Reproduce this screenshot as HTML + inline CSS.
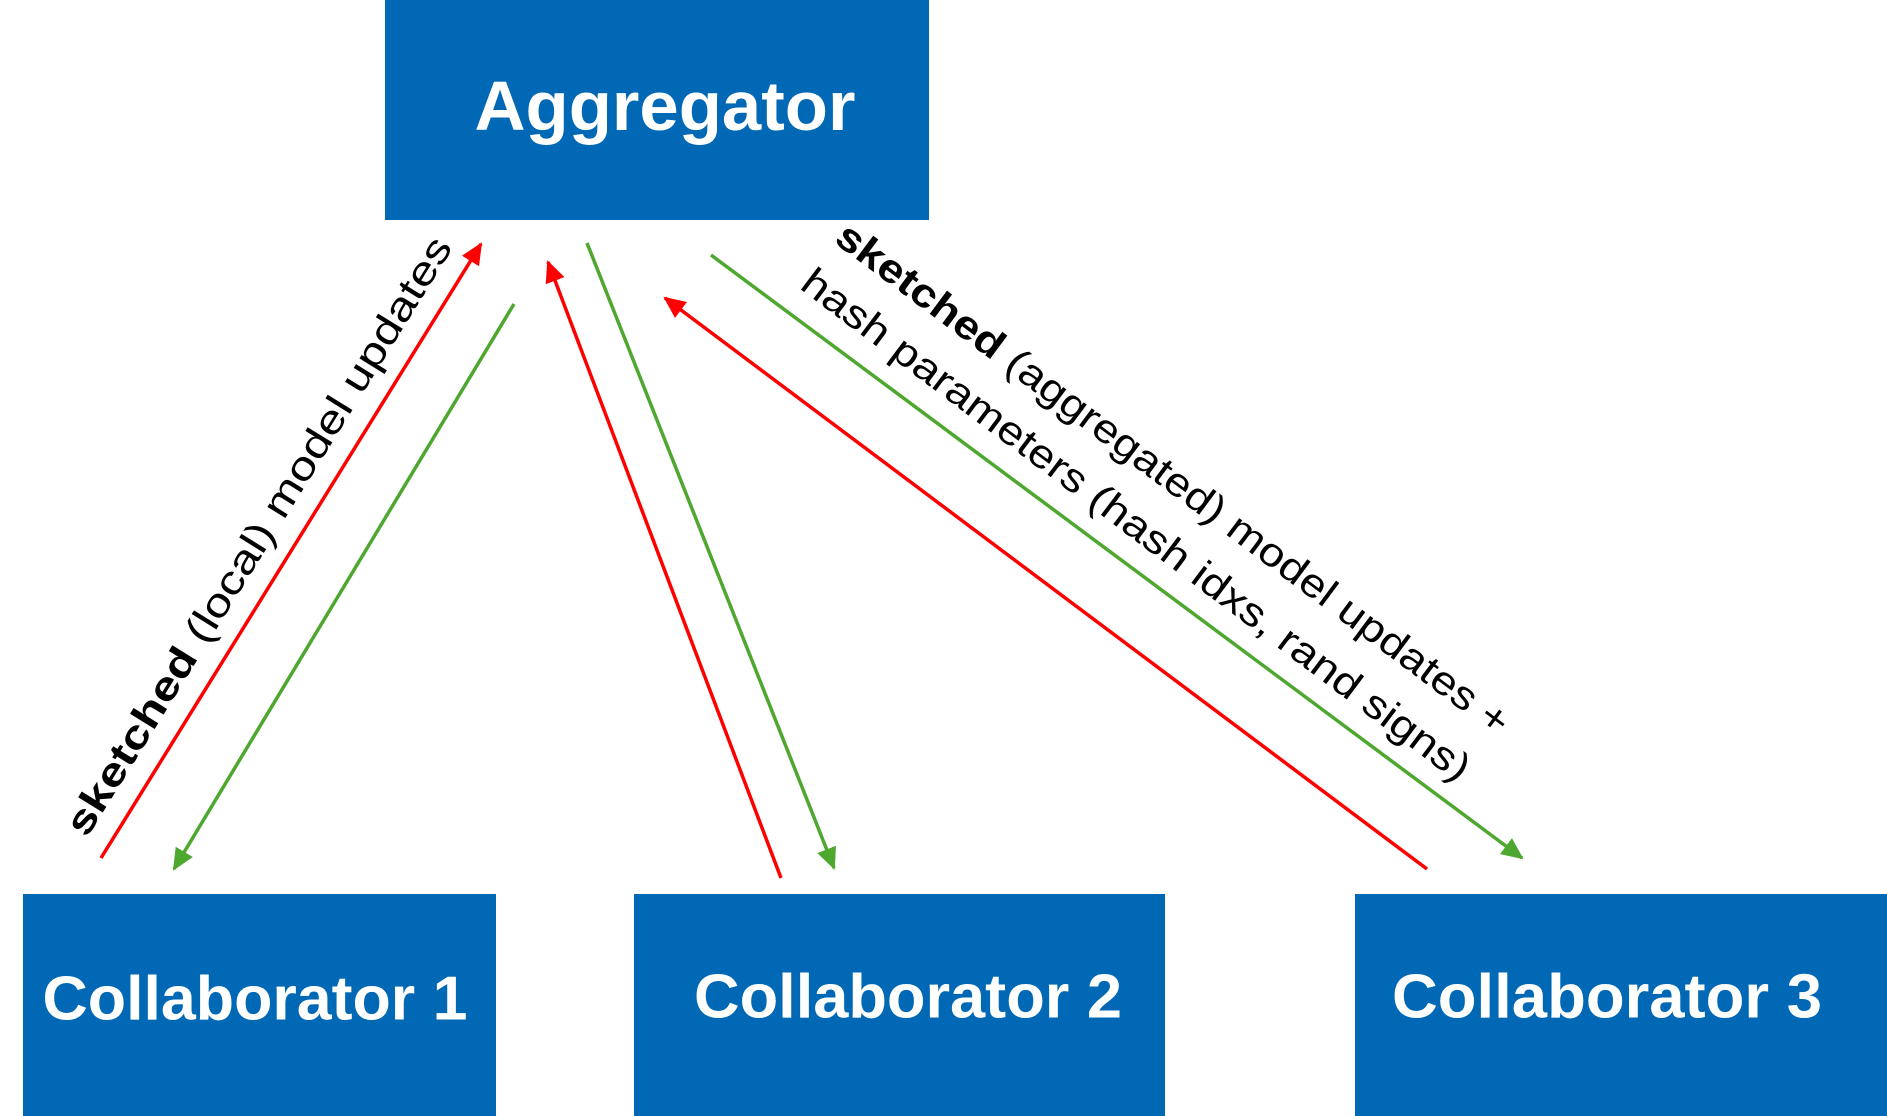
<!DOCTYPE html>
<html><head><meta charset="utf-8"><style>
html,body{margin:0;padding:0;background:#fff;}
svg{display:block;}
</style></head><body>
<svg width="1887" height="1116" viewBox="0 0 1887 1116" xmlns="http://www.w3.org/2000/svg" font-family="'Liberation Sans', sans-serif">
<defs>
<marker id="ar" markerWidth="22" markerHeight="20" refX="20" refY="10" orient="auto" markerUnits="userSpaceOnUse" viewBox="0 0 22 20"><path d="M0,0 L22,10 L0,20 z" fill="#ff0000"/></marker>
<marker id="ag" markerWidth="22" markerHeight="20" refX="20" refY="10" orient="auto" markerUnits="userSpaceOnUse" viewBox="0 0 22 20"><path d="M0,0 L22,10 L0,20 z" fill="#4ea72e"/></marker>
</defs>
<style>
.r{stroke:#ff0000;stroke-width:3.5;fill:none;}
.g{stroke:#4ea72e;stroke-width:3.5;fill:none;}
</style>
<rect x="385" y="0" width="544" height="220" fill="#0068b5"/>
<rect x="23" y="894" width="473" height="222" fill="#0068b5"/>
<rect x="634" y="894" width="531" height="222" fill="#0068b5"/>
<rect x="1355" y="894" width="532" height="222" fill="#0068b5"/>
<g fill="#fff" font-weight="bold" text-anchor="middle" dominant-baseline="central">
<text x="665" y="106" font-size="70" textLength="381" lengthAdjust="spacingAndGlyphs">Aggregator</text>
<text x="255" y="999" font-size="62" textLength="425" lengthAdjust="spacingAndGlyphs">Collaborator 1</text>
<text x="908" y="997" font-size="62" textLength="428" lengthAdjust="spacingAndGlyphs">Collaborator 2</text>
<text x="1607" y="997" font-size="62" textLength="430" lengthAdjust="spacingAndGlyphs">Collaborator 3</text>
</g>
<line class="r" x1="101" y1="858" x2="481" y2="244" marker-end="url(#ar)"/>
<line class="g" x1="514" y1="304" x2="174" y2="869" marker-end="url(#ag)"/>
<line class="r" x1="781" y1="878" x2="548" y2="262" marker-end="url(#ar)"/>
<line class="g" x1="587" y1="243" x2="834" y2="868" marker-end="url(#ag)"/>
<line class="r" x1="1427" y1="869" x2="665" y2="298" marker-end="url(#ar)"/>
<line class="g" x1="711" y1="255" x2="1522" y2="858" marker-end="url(#ag)"/>
<g fill="#000" font-size="40" text-anchor="middle" dominant-baseline="central">
<text transform="translate(259,536) rotate(-58.2)" textLength="696" lengthAdjust="spacingAndGlyphs"><tspan font-weight="bold">sketched</tspan> (local) model updates</text>
<text transform="translate(1173,479) rotate(36.7)" textLength="829" lengthAdjust="spacingAndGlyphs"><tspan font-weight="bold">sketched</tspan> (aggregated) model updates +</text>
<text transform="translate(1136,525) rotate(36.9)" textLength="825" lengthAdjust="spacingAndGlyphs">hash parameters (hash idxs, rand signs)</text>
</g>
</svg>
</body></html>
